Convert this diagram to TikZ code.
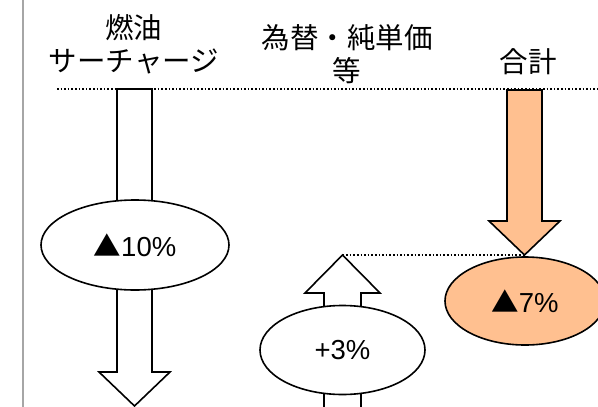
\documentclass[tikz,border=0pt]{standalone}
\usepackage{fontspec}
\setmainfont{Liberation Sans}
\newfontfamily\jp{Noto Sans CJK JP}
\usetikzlibrary{shapes.geometric}
\definecolor{peach}{RGB}{255,192,144}
\tikzset{
  arrowbox/.style={draw=black, line width=1.6pt, line join=miter, fill=#1},
  arrowbox/.default=white,
  oval/.style={ellipse, draw=black, line width=1.6pt, fill=#1, inner sep=0pt,
    font=\fontsize{27.5}{32}\selectfont},
  oval/.default=white,
  head/.style={align=center, font=\jp\fontsize{28.5}{33}\selectfont, inner sep=0pt},
  guide/.style={dotted, line width=1.6pt}
}
\newcommand{\tri}{{\jp ▲}}
\begin{document}
\begin{tikzpicture}[x=1pt,y=-1pt]
\useasboundingbox (0,0) rectangle (598,407);
\draw[gray!70, line width=2pt] (23,0) -- (23,407);
\coordinate (gl) at (57,89);
\coordinate (gr) at (598,89);
\draw[guide] (gl) -- (gr);
% headings
\node[head] (fuel) at (134,44) {燃油\\サーチャージ};
\node[head] (fx) at (347,54) {為替・純単価\\等};
\node[head] (total) at (528,62) {合計};
% left arrow
\draw[arrowbox] (117,89) -- (152,89) -- (152,372) -- (170,372) -- (134.5,406) -- (99,372) -- (117,372) -- cycle;
\node[oval, minimum width=188pt, minimum height=90pt] (a) at (135,245) {\tri10\%};
% middle arrow
\draw[arrowbox] (324,420) -- (324,293) -- (305,293) -- (342.5,255) -- (380,293) -- (361,293) -- (361,420);
\coordinate (mtip) at (342.5,255);
\node[oval, minimum width=165pt, minimum height=89pt] (b) at (342.5,350) {+3\%};
% right arrow
\draw[arrowbox=peach] (507,90) -- (542,90) -- (542,221) -- (560,221) -- (524.5,255) -- (489,221) -- (507,221) -- cycle;
\coordinate (rtip) at (524.5,255);
\draw[guide] (mtip) -- (rtip);
\node[oval=peach, minimum width=160pt, minimum height=88pt] (c) at (525,301) {\tri7\%};
\end{tikzpicture}
\end{document}
